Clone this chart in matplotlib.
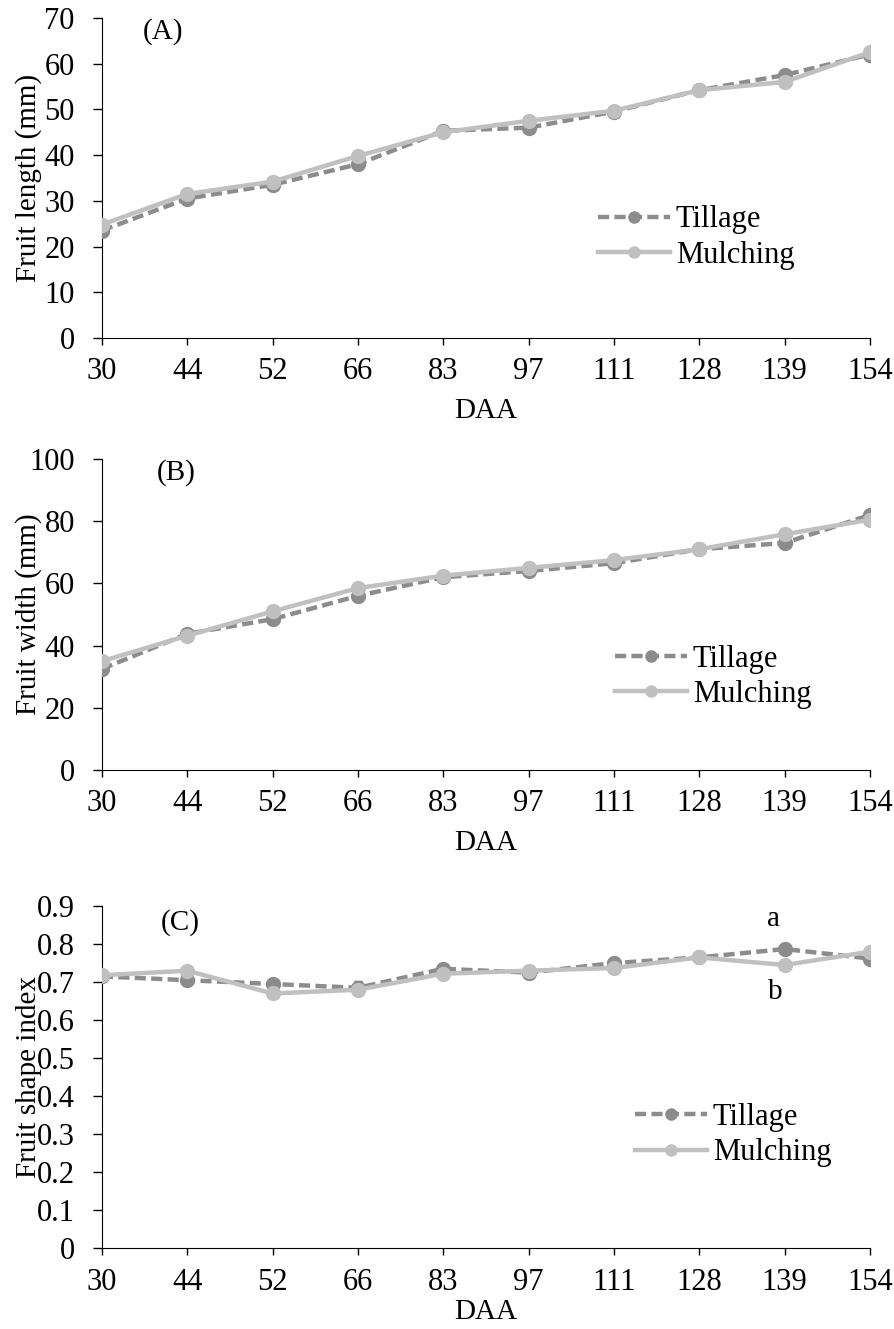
import matplotlib.pyplot as plt
from matplotlib.lines import Line2D
import numpy as np

plt.rcParams['font.family'] = ['Liberation Serif', 'DejaVu Serif']

daa = ['30', '44', '52', '66', '83', '97', '111', '128', '139', '154']

# (A) fruit length (mm)
len_till = [23.5, 30.5, 33.5, 38.0, 45.3, 46.0, 49.5, 54.2, 57.5, 62.0]
len_mulch = [24.8, 31.5, 34.2, 39.8, 45.0, 47.5, 49.7, 54.2, 56.0, 62.5]
len_till_err = [0.8, 0.6, 0.6, 0.8, 0.6, 0.7, 0.6, 0.6, 0.7, 1.3]
len_mulch_err = [0.6, 0.6, 0.6, 0.6, 0.6, 0.6, 0.6, 0.6, 0.6, 0.8]

# (B) fruit width (mm)
wid_till = [32.5, 43.8, 48.5, 56.0, 62.0, 64.0, 66.5, 71.0, 73.0, 82.0]
wid_mulch = [35.0, 43.2, 51.0, 58.5, 62.5, 65.0, 67.5, 71.0, 75.8, 80.5]
wid_till_err = [1.0, 0.8, 0.8, 0.8, 0.6, 0.8, 0.8, 0.6, 0.8, 1.0]
wid_mulch_err = [0.8, 0.6, 0.6, 0.6, 0.6, 0.6, 0.6, 0.6, 0.8, 0.8]

# (C) fruit shape index
fsi_till = [0.715, 0.705, 0.695, 0.685, 0.735, 0.725, 0.750, 0.765, 0.787, 0.762]
fsi_mulch = [0.718, 0.730, 0.670, 0.680, 0.722, 0.730, 0.737, 0.765, 0.745, 0.780]
fsi_till_err = [0.008, 0.010, 0.012, 0.018, 0.012, 0.018, 0.008, 0.012, 0.010, 0.012]
fsi_mulch_err = [0.008, 0.010, 0.008, 0.012, 0.008, 0.008, 0.008, 0.010, 0.010, 0.010]

till_col = '#8c8c8c'
mulch_col = '#c0c0c0'
fs_tick = 22
fs_lab = 21
fs_leg = 22
dash = (0, (2.5, 1.2))

fig = plt.figure(figsize=(8.94, 13.29), dpi=100)

panels = [
    ([0.114, 0.7457, 0.859, 0.2408], len_till, len_mulch, len_till_err, len_mulch_err,
     (0, 70), np.arange(0, 71, 10), 'Fruit length (mm)', '(A)', (0.053, 0.956), (0.646, 0.314),
     8, lambda v: '%d' % v),
    ([0.114, 0.4206, 0.859, 0.2340], wid_till, wid_mulch, wid_till_err, wid_mulch_err,
     (0, 100), np.arange(0, 101, 20), 'Fruit width (mm)', '(B)', (0.072, 0.955), (0.668, 0.299),
     8, lambda v: '%d' % v),
    ([0.114, 0.0609, 0.859, 0.2573], fsi_till, fsi_mulch, fsi_till_err, fsi_mulch_err,
     (0, 0.9), np.round(np.arange(0, 0.91, 0.1), 1), 'Fruit shape index', '(C)', (0.076, 0.953),
     (0.694, 0.33), 2, lambda v: '0' if v == 0 else '%.1f' % v),
]

x = np.arange(len(daa))
for rect, till, mulch, terr, merr, ylim, yt, ylab, tag, tagpos, legpos, xpad, fmt in panels:
    ax = fig.add_axes(rect)
    ax.errorbar(x, till, yerr=terr, color=till_col, ecolor='#555555', elinewidth=1,
                capsize=3, lw=3.2, ls=dash, marker='o', ms=10, zorder=3)
    ax.errorbar(x, mulch, yerr=merr, color=mulch_col, ecolor='#555555', elinewidth=1,
                capsize=3, lw=3.2, ls='-', marker='o', ms=10, zorder=4)
    ax.set_xlim(0, len(daa) - 1)
    ax.set_ylim(*ylim)
    ax.set_xticks(x)
    ax.set_xticklabels(daa, fontsize=fs_tick)
    ax.set_yticks(yt)
    ax.set_yticklabels([fmt(v) for v in yt], fontsize=fs_tick)
    ax.tick_params(axis='x', direction='out', length=5, width=1, pad=9)
    ax.tick_params(axis='y', direction='out', length=6.5, width=1, pad=13)
    for s in ['top', 'right']:
        ax.spines[s].set_visible(False)
    ax.set_ylabel(ylab, fontsize=fs_lab)
    ax.yaxis.set_label_coords(-0.078, 0.5)
    ax.set_xlabel('DAA', fontsize=fs_lab, labelpad=xpad)
    ax.text(tagpos[0], tagpos[1], tag, transform=ax.transAxes, fontsize=fs_lab,
            va='center', ha='left')
    h = [Line2D([], [], color=till_col, lw=3.2, ls=dash, marker='o', ms=8),
         Line2D([], [], color=mulch_col, lw=3.2, ls='-', marker='o', ms=8)]
    ax.legend(h, ['Tillage', 'Mulching'], loc='center left', bbox_to_anchor=legpos,
              frameon=False, fontsize=fs_leg, handlelength=2.35, handletextpad=0.2,
              labelspacing=0.2, borderaxespad=0, borderpad=0)
    if tag == '(C)':
        ax.text(7.87, 0.865, 'a', fontsize=fs_lab, ha='center', va='center')
        ax.text(7.89, 0.674, 'b', fontsize=fs_lab, ha='center', va='center')

fig.savefig('out.png', dpi=100)
